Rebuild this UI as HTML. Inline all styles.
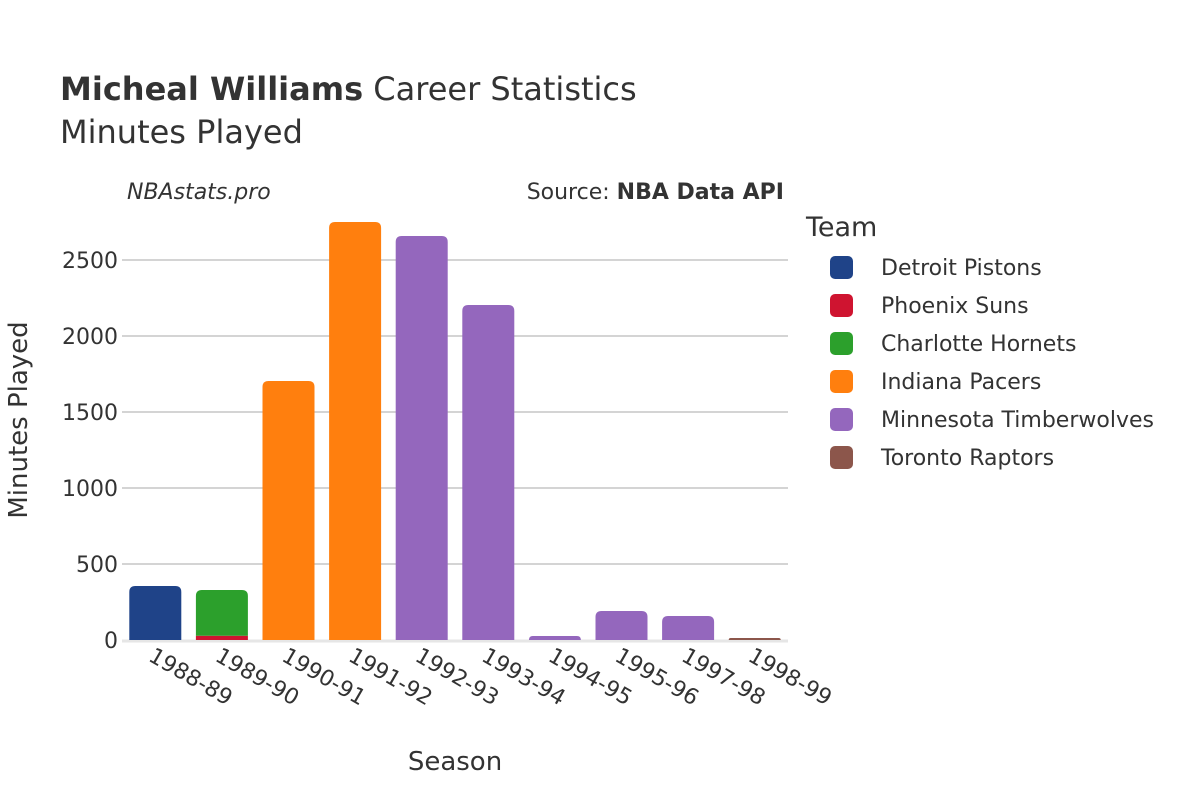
<!DOCTYPE html>
<html><head><meta charset="utf-8"><style>
body{margin:0;background:#fff;font-family:"Liberation Sans","DejaVu Sans",sans-serif;}
svg text{font-family:"DejaVu Sans","Liberation Sans",sans-serif;}
</style></head><body>
<svg id="chart" width="1200" height="800">
<text x="60" y="100" font-size="32" fill="#333"><tspan font-weight="bold">Micheal Williams</tspan> Career Statistics</text>
<text x="60" y="143" font-size="32" fill="#333">Minutes Played</text>
<text x="127" y="199" font-size="22" font-style="italic" fill="#333">NBAstats.pro</text>
<text x="784" y="199" font-size="22" text-anchor="end" fill="#333">Source: <tspan font-weight="bold">NBA Data API</tspan></text>
<g id="grid"></g>
<g id="bars"></g>
<g id="xlabels"></g>
<text x="455" y="770" font-size="26" text-anchor="middle" fill="#333">Season</text>
<text transform="translate(27,420) rotate(-90)" font-size="26" text-anchor="middle" fill="#333">Minutes Played</text>
<text x="806" y="236" font-size="27" fill="#333">Team</text>
<g id="legend"></g>
</svg>
<script>
const seasons=["1988-89","1989-90","1990-91","1991-92","1992-93","1993-94","1994-95","1995-96","1997-98","1998-99"];
const teams=["Detroit Pistons","Phoenix Suns","Charlotte Hornets","Indiana Pacers","Minnesota Timberwolves","Toronto Raptors"];
const colors=["#1f4388","#cf1430","#2ca02c","#ff7f0e","#9467bd","#8c564b"];
const detroit=[355,0,0,0,0,0,0,0,0,0];
const phoenix=[0,28,0,0,0,0,0,0,0,0];
const charlotte=[0,301,0,0,0,0,0,0,0,0];
const indiana=[0,0,1704,2750,0,0,0,0,0,0];
const minnesota=[0,0,0,0,2658,2204,26,191,158,0];
const toronto=[0,0,0,0,0,0,0,0,0,13];
const series=[detroit,phoenix,charlotte,indiana,minnesota,toronto];
const yTicks=[0,500,1000,1500,2000,2500];
const NS="http://www.w3.org/2000/svg";
const x0=122,x1=788,yBase=640,pxPer=380/2500;
const y=v=>yBase-v*pxPer;
const band=(x1-x0)/seasons.length;
const bw=52;
function mk(tag,attrs,parent){const e=document.createElementNS(NS,tag);for(const k in attrs)e.setAttribute(k,attrs[k]);parent.appendChild(e);return e;}
const grid=document.getElementById('grid');
yTicks.forEach(t=>{
 if(t>0){const l=mk('line',{x1:x0,x2:x1,y1:y(t),y2:y(t),stroke:'#bbb','stroke-width':1.3},grid);
 
 }
 const tx=mk('text',{x:x0-4,y:y(t)+8,'font-size':22,'text-anchor':'end',fill:'#333'},grid);
 tx.textContent=t;
 
 
});
const zl=mk('line',{x1:x0,x2:x1,y1:yBase+1,y2:yBase+1,stroke:'#e6e6e6','stroke-width':3},grid);


const bars=document.getElementById('bars');
seasons.forEach((s,i)=>{
 let acc=0;const cx=x0+band*(i+0.5);
 let topIdx=-1;series.forEach((arr,k)=>{if(arr[i]>0)topIdx=k;});
 series.forEach((arr,k)=>{
  const v=arr[i];if(v<=0)return;
  const yt=y(acc+v),yb=y(acc);acc+=v;
  const h=yb-yt;const r=(k===topIdx)?Math.min(6,h):0;
  const xl=cx-bw/2,xr=cx+bw/2;
  const d=`M${xl},${yb}L${xl},${yt+r}Q${xl},${yt} ${xl+r},${yt}L${xr-r},${yt}Q${xr},${yt} ${xr},${yt+r}L${xr},${yb}Z`;
  const p=mk('path',{d:d,fill:colors[k]},bars);
  
  
 });
 const t=mk('text',{transform:`translate(${cx-8},${660}) rotate(30)`,'font-size':22,fill:'#333'},document.getElementById('xlabels'));
 t.textContent=s;
 
 
});
const lg=document.getElementById('legend');
teams.forEach((tm,k)=>{
 const yy=267+k*38;
 const r=mk('rect',{x:830,y:yy-11,width:23,height:23,rx:5,fill:colors[k]},lg);
 
 
 const t=mk('text',{x:881,y:yy+8,'font-size':22,fill:'#333'},lg);
 t.textContent=tm;
 
 
});
</script>
</body></html>
